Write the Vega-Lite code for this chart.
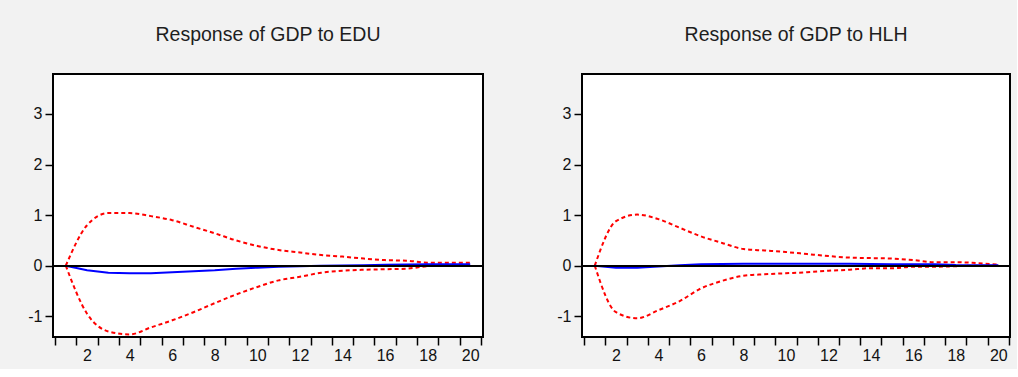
{
  "$schema": "https://vega.github.io/schema/vega-lite/v6.json",
  "background": "#f2f2f2",
  "padding": {"left": 22, "top": 23, "right": 5, "bottom": 5},
  "spacing": 66,
  "datasets": {
    "edu": [
      {"period": 1, "resp": 0, "lower": 0, "upper": 0},
      {"period": 2, "resp": -0.09, "lower": -0.95, "upper": 0.8},
      {"period": 3, "resp": -0.14, "lower": -1.3, "upper": 1.04},
      {"period": 4, "resp": -0.15, "lower": -1.36, "upper": 1.04},
      {"period": 5, "resp": -0.15, "lower": -1.22, "upper": 0.98},
      {"period": 6, "resp": -0.13, "lower": -1.08, "upper": 0.9},
      {"period": 7, "resp": -0.11, "lower": -0.92, "upper": 0.77},
      {"period": 8, "resp": -0.09, "lower": -0.74, "upper": 0.64},
      {"period": 9, "resp": -0.06, "lower": -0.57, "upper": 0.5},
      {"period": 10, "resp": -0.04, "lower": -0.42, "upper": 0.39},
      {"period": 11, "resp": -0.02, "lower": -0.29, "upper": 0.31},
      {"period": 12, "resp": -0.01, "lower": -0.22, "upper": 0.26},
      {"period": 13, "resp": 0, "lower": -0.14, "upper": 0.21},
      {"period": 14, "resp": 0.005, "lower": -0.1, "upper": 0.18},
      {"period": 15, "resp": 0.01, "lower": -0.08, "upper": 0.14},
      {"period": 16, "resp": 0.02, "lower": -0.07, "upper": 0.11},
      {"period": 17, "resp": 0.025, "lower": -0.06, "upper": 0.1},
      {"period": 18, "resp": 0.03, "lower": -0.01, "upper": 0.06},
      {"period": 19, "resp": 0.03, "lower": 0, "upper": 0.06},
      {"period": 20, "resp": 0.03, "lower": 0, "upper": 0.06}
    ],
    "hlh": [
      {"period": 1, "resp": 0, "lower": 0, "upper": 0},
      {"period": 2, "resp": -0.04, "lower": -0.92, "upper": 0.88},
      {"period": 3, "resp": -0.04, "lower": -1.04, "upper": 1.01},
      {"period": 4, "resp": -0.015, "lower": -0.88, "upper": 0.92},
      {"period": 5, "resp": 0.01, "lower": -0.7, "upper": 0.75},
      {"period": 6, "resp": 0.03, "lower": -0.45, "upper": 0.58},
      {"period": 7, "resp": 0.035, "lower": -0.3, "upper": 0.45},
      {"period": 8, "resp": 0.04, "lower": -0.2, "upper": 0.33},
      {"period": 9, "resp": 0.04, "lower": -0.17, "upper": 0.3},
      {"period": 10, "resp": 0.04, "lower": -0.15, "upper": 0.27},
      {"period": 11, "resp": 0.04, "lower": -0.13, "upper": 0.23},
      {"period": 12, "resp": 0.04, "lower": -0.1, "upper": 0.19},
      {"period": 13, "resp": 0.04, "lower": -0.08, "upper": 0.16},
      {"period": 14, "resp": 0.035, "lower": -0.05, "upper": 0.15},
      {"period": 15, "resp": 0.03, "lower": -0.05, "upper": 0.14},
      {"period": 16, "resp": 0.03, "lower": -0.02, "upper": 0.11},
      {"period": 17, "resp": 0.03, "lower": -0.02, "upper": 0.07},
      {"period": 18, "resp": 0.015, "lower": -0.01, "upper": 0.07},
      {"period": 19, "resp": 0.01, "lower": 0, "upper": 0.05},
      {"period": 20, "resp": 0.01, "lower": 0, "upper": 0.02}
    ]
  },
  "config": {
    "font": "Liberation Sans",
    "view": {"stroke": "#000000", "strokeWidth": 2, "fill": "#ffffff"},
    "title": {"fontSize": 19.5, "fontWeight": "normal", "color": "#1e1e1e", "offset": 29, "font": "Liberation Sans"},
    "axis": {
      "grid": false,
      "domain": false,
      "tickColor": "#000000",
      "tickWidth": 1.5,
      "tickSize": 8,
      "labelColor": "#111111",
      "labelFontSize": 16,
      "labelFont": "Liberation Sans",
      "title": null
    }
  },
  "hconcat": [
    {
      "title": "Response of GDP to EDU",
      "width": 430,
      "height": 263,
      "data": {"name": "edu"},
      "resolve": {"axis": {"x": "independent"}},
      "layer": [
        {
          "mark": {"type": "line", "color": "#ff0000", "strokeWidth": 2, "strokeDash": [4, 3], "interpolate": "monotone"},
          "encoding": {
            "x": {"field": "period", "type": "quantitative", "scale": {"domain": [0.4, 20.6], "nice": false, "zero": false},
              "axis": {"orient": "bottom", "values": [0.5,1.5,2.5,3.5,4.5,5.5,6.5,7.5,8.5,9.5,10.5,11.5,12.5,13.5,14.5,15.5,16.5,17.5,18.5,19.5,20.5], "labels": false}},
            "y": {"field": "upper", "type": "quantitative", "scale": {"domain": [-1.41, 3.79], "nice": false, "zero": false},
              "axis": {"values": [-1, 0, 1, 2, 3], "labelPadding": 3, "minExtent": 30, "maxExtent": 30, "labelExpr": "replace(datum.label, '\u2212', '-')"}}
          }
        },
        {
          "mark": {"type": "line", "color": "#ff0000", "strokeWidth": 2, "strokeDash": [4, 3], "interpolate": "monotone"},
          "encoding": {
            "x": {"field": "period", "type": "quantitative",
              "axis": {"orient": "bottom", "values": [2,4,6,8,10,12,14,16,18,20], "ticks": false, "tickSize": 0, "labelPadding": 10, "labelOverlap": false, "labelFlush": false, "labelBound": false}},
            "y": {"field": "lower", "type": "quantitative"}
          }
        },
        {
          "mark": {"type": "line", "color": "#0000ff", "strokeWidth": 2},
          "encoding": {
            "x": {"field": "period", "type": "quantitative", "axis": null},
            "y": {"field": "resp", "type": "quantitative"}
          }
        },
        {
          "mark": {"type": "rule", "color": "#000000", "strokeWidth": 1.5},
          "encoding": {"y": {"datum": 0}}
        }
      ]
    },
    {
      "title": "Response of GDP to HLH",
      "width": 428,
      "height": 263,
      "data": {"name": "hlh"},
      "resolve": {"axis": {"x": "independent"}},
      "layer": [
        {
          "mark": {"type": "line", "color": "#ff0000", "strokeWidth": 2, "strokeDash": [4, 3], "interpolate": "monotone"},
          "encoding": {
            "x": {"field": "period", "type": "quantitative", "scale": {"domain": [0.4, 20.55], "nice": false, "zero": false},
              "axis": {"orient": "bottom", "values": [0.5,1.5,2.5,3.5,4.5,5.5,6.5,7.5,8.5,9.5,10.5,11.5,12.5,13.5,14.5,15.5,16.5,17.5,18.5,19.5,20.5], "labels": false}},
            "y": {"field": "upper", "type": "quantitative", "scale": {"domain": [-1.41, 3.79], "nice": false, "zero": false},
              "axis": {"values": [-1, 0, 1, 2, 3], "labelPadding": 3, "minExtent": 30, "maxExtent": 30, "labelExpr": "replace(datum.label, '\u2212', '-')"}}
          }
        },
        {
          "mark": {"type": "line", "color": "#ff0000", "strokeWidth": 2, "strokeDash": [4, 3], "interpolate": "monotone"},
          "encoding": {
            "x": {"field": "period", "type": "quantitative",
              "axis": {"orient": "bottom", "values": [2,4,6,8,10,12,14,16,18,20], "ticks": false, "tickSize": 0, "labelPadding": 10, "labelOverlap": false, "labelFlush": false, "labelBound": false}},
            "y": {"field": "lower", "type": "quantitative"}
          }
        },
        {
          "mark": {"type": "line", "color": "#0000ff", "strokeWidth": 2},
          "encoding": {
            "x": {"field": "period", "type": "quantitative", "axis": null},
            "y": {"field": "resp", "type": "quantitative"}
          }
        },
        {
          "mark": {"type": "rule", "color": "#000000", "strokeWidth": 1.5},
          "encoding": {"y": {"datum": 0}}
        }
      ]
    }
  ]
}
